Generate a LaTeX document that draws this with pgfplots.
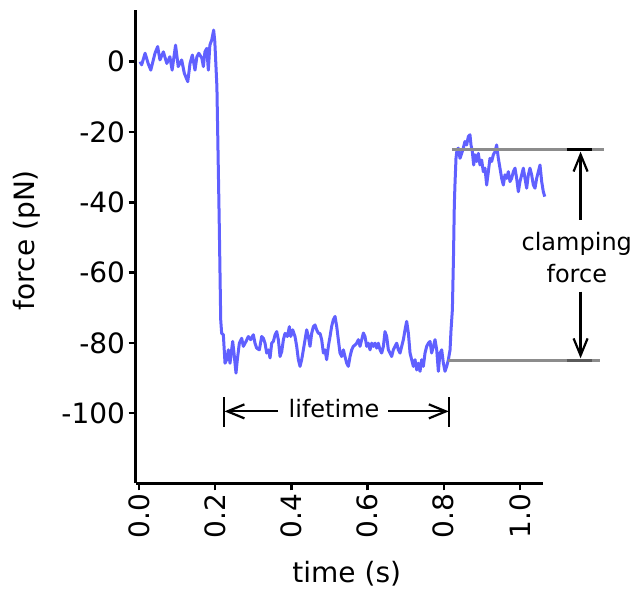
\documentclass[border=0pt]{standalone}
\usepackage{pgfplots}
\pgfplotsset{compat=1.18}
\usepackage{fontspec}
\setmainfont{DejaVu Sans}
\usetikzlibrary{arrows.meta}
\definecolor{trace}{RGB}{96,96,255}
\definecolor{refgray}{RGB}{140,140,140}
\definecolor{darkgray2}{RGB}{90,90,90}
\begin{document}
\begin{tikzpicture}
\begin{axis}[
  scale only axis, width=407.6pt, height=473.3pt,
  xmin=-0.009, xmax=1.061, ymin=-120, ymax=14.7,
  axis x line=bottom, axis y line=left,
  axis line style={-, line width=3pt, black},
  tick align=outside, major tick length=7pt,
  tick style={line width=2.6pt, black},
  xtick={0,0.2,0.4,0.6,0.8,1.0},
  xticklabels={0.0,0.2,0.4,0.6,0.8,1.0},
  ytick={-100,-80,-60,-40,-20,0},
  yticklabels={-100,-80,-60,-40,-20,0},
  xticklabel style={font=\fontsize{28}{32}\selectfont, rotate=90, anchor=east},
  yticklabel style={font=\fontsize{28}{32}\selectfont},
  xlabel={time (s)}, ylabel={force (pN)},
  xlabel style={font=\fontsize{28}{32}\selectfont, at={(axis description cs:0.518,-0.19)}, anchor=center},
  ylabel style={font=\fontsize{28}{32}\selectfont, at={(axis description cs:-0.267,0.514)}, anchor=center},
  clip=false,
]
\path (axis cs:-0.3648,17.55) rectangle (axis cs:1.3097,-150.8);
\addplot[color=trace, line width=3pt, line join=round] coordinates {
(0.003,0.0) (0.007,-0.9) (0.016,2.4) (0.024,-0.5) (0.031,-2.4) (0.042,2.4)
(0.049,4.3) (0.055,0.5) (0.064,2.8) (0.073,-0.5) (0.081,1.4) (0.087,-2.4)
(0.096,4.7) (0.103,-1.4) (0.112,0.5) (0.119,-3.3) (0.128,-5.7) (0.134,-0.5)
(0.140,1.9) (0.147,-2.4) (0.152,1.4) (0.157,2.4) (0.165,1.0) (0.169,-1.4)
(0.173,2.8) (0.178,3.8) (0.182,-2.4) (0.186,4.7) (0.191,6.2) (0.196,9.0)
(0.199,5.7) (0.2045,-7.1) (0.2105,-45) (0.2145,-73.5) (0.217,-77.3)
(0.2214,-77.7) (0.2258,-85.8) (0.2301,-84.8) (0.2345,-82.0) (0.2389,-85.8)
(0.2459,-79.6) (0.2494,-82.9) (0.2546,-88.6) (0.2581,-84.8) (0.2634,-80.1)
(0.2695,-78.7) (0.2739,-81.0) (0.2809,-79.6) (0.2870,-78.2) (0.2931,-79.1)
(0.3001,-77.7) (0.3045,-80.1) (0.3089,-81.5) (0.3159,-82.0) (0.3220,-78.2)
(0.3264,-78.7) (0.3308,-80.1) (0.3352,-82.9) (0.3396,-82.0) (0.3440,-84.3)
(0.3483,-80.1) (0.3527,-79.6) (0.3571,-77.7) (0.3614,-76.8) (0.3658,-79.1)
(0.3702,-83.9) (0.3746,-82.5) (0.3790,-79.1) (0.3833,-77.3) (0.3894,-78.2)
(0.3947,-75.4) (0.3982,-78.2) (0.4034,-76.3) (0.4095,-78.2) (0.4139,-81.0)
(0.4183,-84.8) (0.4227,-86.7) (0.4270,-84.8) (0.4314,-82.0) (0.4358,-79.1)
(0.4402,-76.3) (0.4445,-78.2) (0.4489,-81.0) (0.4533,-77.3) (0.4577,-75.4)
(0.4620,-74.9) (0.4664,-76.3) (0.4708,-77.3)
(0.4751,-77.3) (0.4795,-79.1) (0.4839,-82.9) (0.4882,-82.0) (0.4926,-84.8)
(0.4970,-81.0) (0.5014,-78.2) (0.5057,-75.3) (0.5101,-73.4) (0.5145,-72.5)
(0.5189,-75.3) (0.5232,-79.1) (0.5276,-82.9) (0.5320,-83.9) (0.5364,-82.0)
(0.5407,-83.9) (0.5451,-85.8) (0.5495,-86.7) (0.5539,-83.9) (0.5582,-82.0)
(0.5626,-81.0) (0.5670,-80.6) (0.5714,-80.1) (0.5757,-79.1) (0.5801,-81.0)
(0.5845,-79.1) (0.5889,-77.2) (0.5932,-78.2) (0.5976,-81.0) (0.6020,-80.1)
(0.6064,-82.0) (0.6107,-80.1) (0.6151,-81.0) (0.6195,-80.1) (0.6239,-81.5)
(0.6282,-80.1) (0.6326,-82.0) (0.6370,-82.9) (0.6414,-81.0) (0.6457,-76.8)
(0.6501,-78.2) (0.6545,-82.0) (0.6589,-82.9) (0.6632,-83.9) (0.6676,-82.0)
(0.6720,-81.0) (0.6764,-80.1) (0.6807,-82.0) (0.6851,-82.9) (0.6895,-81.0)
(0.6939,-79.1) (0.6982,-76.3) (0.7026,-73.9) (0.7070,-77.2) (0.7114,-82.9)
(0.7157,-84.8) (0.7201,-86.7) (0.7245,-84.8) (0.7289,-87.7) (0.7332,-85.8)
(0.7376,-88.1) (0.7420,-84.8) (0.7464,-86.7) (0.7507,-82.9) (0.7551,-81.0)
(0.7595,-80.1) (0.7639,-79.6) (0.7682,-82.9) (0.7726,-81.0) (0.7770,-79.1)
(0.7814,-82.0) (0.7857,-88.1) (0.7901,-82.9) (0.7945,-82.0) (0.7989,-85.8)
(0.8032,-88.1) (0.8076,-86.7) (0.8120,-84.8) (0.8164,-82.0) (0.8190,-76.3)
(0.8225,-70.6) (0.8255,-55.0) (0.8276,-40.8) (0.8293,-35.0) (0.8320,-27.5)
(0.8346,-25.1)
(0.8381,-24.6) (0.8425,-27.5) (0.8469,-26.1) (0.8512,-24.6) (0.8556,-22.7)
(0.8600,-23.7) (0.8644,-21.3) (0.8687,-20.8) (0.8714,-23.7) (0.8749,-25.6)
(0.8784,-29.4) (0.8819,-26.5) (0.8862,-28.4) (0.8906,-26.1) (0.8950,-29.4)
(0.8994,-28.0) (0.9037,-31.3) (0.9081,-30.3) (0.9125,-35.1) (0.9169,-31.3)
(0.9212,-27.5) (0.9256,-28.4) (0.9300,-26.5) (0.9344,-25.6) (0.9387,-23.7)
(0.9431,-27.5) (0.9475,-30.3) (0.9519,-33.2) (0.9562,-35.1) (0.9606,-32.2)
(0.9650,-33.2) (0.9694,-31.3) (0.9737,-34.1) (0.9781,-33.2) (0.9825,-31.3)
(0.9869,-30.3) (0.9912,-33.2) (0.9956,-37.0) (1.0000,-34.1) (1.0044,-32.2)
(1.0087,-30.3) (1.0131,-33.2) (1.0175,-36.0) (1.0219,-32.2) (1.0262,-30.3)
(1.0306,-32.2) (1.0350,-35.1) (1.0394,-36.0) (1.0437,-33.2) (1.0481,-31.3)
(1.0525,-29.4) (1.0569,-34.1) (1.0612,-37.0) (1.0650,-38.4)
};
% reference levels
\draw[refgray, line width=2.4pt] (axis cs:0.8215,-25) -- (axis cs:1.2205,-25);
\draw[refgray, line width=2.4pt] (axis cs:0.8110,-85) -- (axis cs:1.2100,-85);
\draw[black, line width=2.8pt] (axis cs:1.1226,-25) -- (axis cs:1.190,-25);
\draw[darkgray2, line width=2.6pt] (axis cs:1.1226,-85) -- (axis cs:1.190,-85);
% clamping force arrows
\draw[line width=2.2pt, -{Straight Barb[length=17pt,width=14pt,line width=2.2pt]}] (axis cs:1.159,-45) -- (axis cs:1.159,-25.6);
\draw[line width=2.2pt, -{Straight Barb[length=17pt,width=14pt,line width=2.2pt]}] (axis cs:1.159,-65.4) -- (axis cs:1.159,-84.4);
\node[align=center, font=\fontsize{24}{32}\selectfont] at (axis cs:1.149,-55.6) {clamping\\force};
% lifetime
\draw[line width=2.2pt] (axis cs:0.223,-95.5) -- (axis cs:0.223,-104);
\draw[line width=2.2pt] (axis cs:0.8145,-95.5) -- (axis cs:0.8145,-104);
\draw[line width=2.2pt, -{Straight Barb[length=17pt,width=14pt,line width=2.2pt]}] (axis cs:0.365,-99.5) -- (axis cs:0.2245,-99.5);
\draw[line width=2.2pt, -{Straight Barb[length=17pt,width=14pt,line width=2.2pt]}] (axis cs:0.654,-99.5) -- (axis cs:0.813,-99.5);
\node[font=\fontsize{24}{28}\selectfont] at (axis cs:0.512,-98.6) {lifetime};
\end{axis}
\end{tikzpicture}
\end{document}
